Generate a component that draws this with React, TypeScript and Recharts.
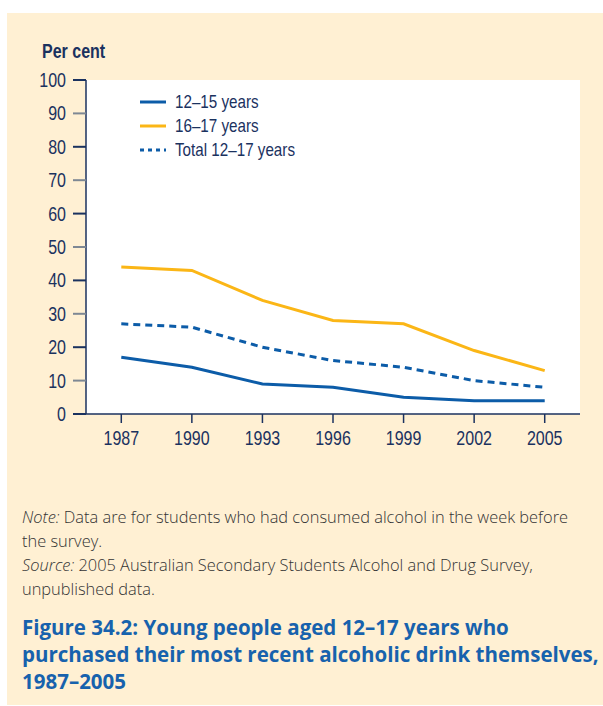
import { LineChart, Line, XAxis, YAxis, CartesianGrid } from 'recharts';

const YEARS = [1987, 1990, 1993, 1996, 1999, 2002, 2005];
const AGED_12_15 = [17, 14, 9, 8, 5, 4, 4];
const AGED_16_17 = [44, 43, 34, 28, 27, 19, 13];
const TOTAL_12_17 = [27, 26, 20, 16, 14, 10, 8];
const Y_TICKS = [0, 10, 20, 30, 40, 50, 60, 70, 80, 90, 100];
const SERIES_NAMES = ['12–15 years', '16–17 years', 'Total 12–17 years'];
const SERIES_KEYS = ['young', 'older', 'total'];

const BLUE = '#0c5ca8';
const ORANGE = '#fbb616';
const NAVY = '#1b325f';
const GREY = '#7e8894';
const BEIGE = '#fff0d3';
const NARROW = "'Liberation Sans', Arial, sans-serif";
const SQUEEZE = 0.8;

const data = YEARS.map((year, i) => ({
  year,
  young: AGED_12_15[i],
  older: AGED_16_17[i],
  total: TOTAL_12_17[i],
}));

const lineStyle: Record<string, { color: string; dash?: string }> = {
  young: { color: BLUE },
  older: { color: ORANGE },
  total: { color: BLUE, dash: '4 4' },
};

// narrow text: the original uses a condensed face we don't have
function Narrow({ children, style }: any) {
  return (
    <span style={{ display: 'inline-block', transform: `scaleX(${SQUEEZE})`, transformOrigin: 'left center', whiteSpace: 'nowrap', ...style }}>
      {children}
    </span>
  );
}

function YTick({ x, y, payload }: any) {
  const dark = payload.value % 20 === 0;
  return (
    <g>
      <line x1={x + 7} x2={x + 20} y1={y} y2={y} stroke={dark ? NAVY : GREY} strokeWidth={2} />
      <text
        transform={`translate(${x},${y + 7}) scale(${SQUEEZE},1)`}
        textAnchor="end"
        fill={NAVY}
        fontSize={20}
        fontFamily={NARROW}
      >
        {payload.value}
      </text>
    </g>
  );
}

function XTick({ x, y, payload }: any) {
  return (
    <text
      transform={`translate(${x},${y + 14}) scale(${SQUEEZE},1)`}
      textAnchor="middle"
      fill={NAVY}
      fontSize={20}
      fontFamily={NARROW}
    >
      {payload.value}
    </text>
  );
}

export default function App() {
  return (
    <div style={{ position: 'absolute', left: 0, top: 0, width: 603, height: 706, background: '#fff' }}>
      <div style={{ position: 'absolute', left: 7, top: 13, right: 0, bottom: 1, background: BEIGE }} />
      <div style={{ position: 'absolute', left: 0, top: 0 }}>
        <LineChart width={603} height={460} data={data} margin={{ top: 80, right: 23, bottom: 16, left: 36 }}>
          <CartesianGrid horizontal={false} vertical={false} fill="#fff" />
          <XAxis
            dataKey="year"
            type="number"
            domain={[1985.5, 2006.5]}
            ticks={YEARS}
            height={30}
            axisLine={{ stroke: NAVY, strokeWidth: 1.5 }}
            tickLine={{ stroke: NAVY, strokeWidth: 1.5 }}
            tickSize={9}
            tickMargin={8}
            tick={<XTick />}
          />
          <YAxis
            type="number"
            domain={[0, 100]}
            ticks={Y_TICKS}
            width={50}
            axisLine={{ stroke: NAVY, strokeWidth: 1.5 }}
            tickLine={false}
            tickSize={13}
            tickMargin={7}
            tick={<YTick />}
          />
          <Line dataKey="young" name={SERIES_NAMES[0]} stroke={BLUE} strokeWidth={3} dot={false} isAnimationActive={false} />
          <Line dataKey="older" name={SERIES_NAMES[1]} stroke={ORANGE} strokeWidth={3} dot={false} isAnimationActive={false} />
          <Line
            dataKey="total"
            name={SERIES_NAMES[2]}
            stroke={BLUE}
            strokeWidth={3}
            strokeDasharray="7 5"
            dot={false}
            isAnimationActive={false}
          />
        </LineChart>
      </div>
      <div
        style={{
          position: 'absolute',
          left: 42,
          top: 40,
          fontFamily: NARROW,
          fontWeight: 'bold',
          fontSize: 20,
          lineHeight: '22px',
          color: NAVY,
        }}
      >
        <Narrow>Per cent</Narrow>
      </div>
      <div style={{ position: 'absolute', left: 138, top: 90, fontFamily: NARROW, fontSize: 19, color: NAVY }}>
        {SERIES_KEYS.map((key, i) => {
          const st = lineStyle[key];
          return (
            <div key={key} style={{ display: 'flex', alignItems: 'center', height: 24 }}>
              <svg width={30} height={10} style={{ marginRight: 7 }}>
                <line x1={2} x2={28} y1={5} y2={5} stroke={st.color} strokeWidth={3} strokeDasharray={st.dash} />
              </svg>
              <Narrow>{SERIES_NAMES[i]}</Narrow>
            </div>
          );
        })}
      </div>
      <div
        style={{
          position: 'absolute',
          left: 22,
          top: 505,
          fontFamily: "'Open Sans', sans-serif",
          fontWeight: 300,
          fontSize: 16.4,
          lineHeight: '24px',
          color: '#333',
          whiteSpace: 'nowrap',
        }}
      >
        <div>
          <i>Note:</i> Data are for students who had consumed alcohol in the week before
        </div>
        <div>the survey.</div>
        <div>
          <i>Source:</i> 2005 Australian Secondary Students Alcohol and Drug Survey,
        </div>
        <div>unpublished data.</div>
      </div>
      <div
        style={{
          position: 'absolute',
          left: 22,
          top: 614,
          fontFamily: "'Open Sans', sans-serif",
          fontWeight: 'bold',
          fontSize: 20.5,
          lineHeight: '27px',
          color: '#1762ad',
          whiteSpace: 'nowrap',
        }}
      >
        <div>Figure 34.2: Young people aged 12–17 years who</div>
        <div>purchased their most recent alcoholic drink themselves,</div>
        <div>1987–2005</div>
      </div>
    </div>
  );
}
